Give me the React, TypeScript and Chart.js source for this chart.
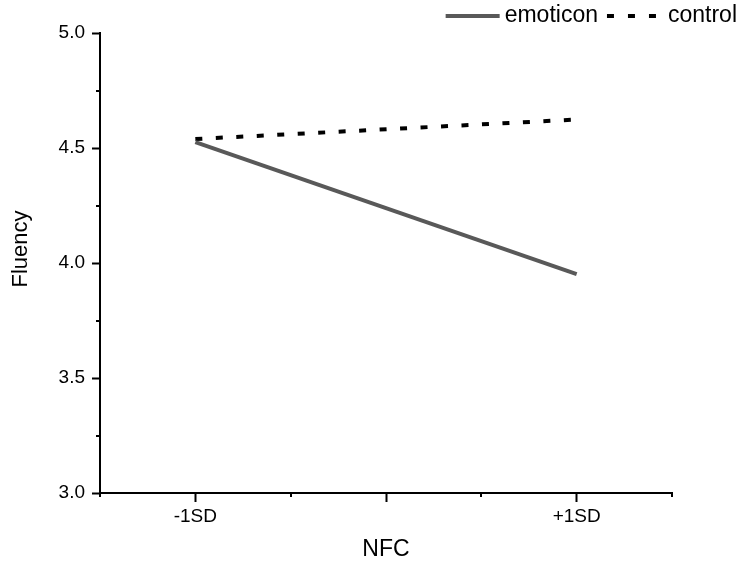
import React, { useEffect, useRef } from 'react';
import { Chart, registerables } from 'chart.js';

Chart.register(...registerables);

// ---- data ----
const xValues = [-1, 1];
const xLabels = ['-1SD', '+1SD'];
const seriesNames = ['emoticon', 'control'];
const emoticonValues = [4.526, 3.952];
const controlValues = [4.539, 4.624];
const xTitle = 'NFC';
const yTitle = 'Fluency';

const FONT = '"Liberation Sans", Arial, sans-serif';
const EMO_COLOR = '#595959';
const CTRL_COLOR = '#000000';
const CTRL_DASH = [7, 13.5];

const isMajorY = (v: number) => Math.abs(Math.round(v * 2) - v * 2) < 1e-6;
const isMajorX = (v: number) => Math.abs(Math.round(v) - v) < 1e-6;

const decorPlugin = {
  id: 'decor',
  afterDraw(chart: any) {
    const { ctx, chartArea, scales } = chart;
    const xs = scales.x;
    const ys = scales.y;
    ctx.save();
    // minor ticks
    ctx.strokeStyle = '#000';
    ctx.lineWidth = 2;
    ctx.beginPath();
    ys.ticks.forEach((t: any) => {
      if (!isMajorY(t.value)) {
        const py = Math.round(ys.getPixelForValue(t.value));
        ctx.moveTo(chartArea.left - 4, py);
        ctx.lineTo(chartArea.left, py);
      }
    });
    xs.ticks.forEach((t: any) => {
      if (!isMajorX(t.value)) {
        const px = Math.round(xs.getPixelForValue(t.value));
        ctx.moveTo(px, chartArea.bottom);
        ctx.lineTo(px, chartArea.bottom + 4);
      }
    });
    ctx.stroke();

    // axis titles
    ctx.fillStyle = '#000';
    ctx.font = `23px ${FONT}`;
    ctx.textAlign = 'center';
    ctx.textBaseline = 'middle';
    ctx.fillText(xTitle, (chartArea.left + chartArea.right) / 2, 550);
    ctx.save();
    ctx.translate(21, 249);
    ctx.rotate(-Math.PI / 2);
    ctx.font = `22px ${FONT}`;
    ctx.fillText(yTitle, 0, 0);
    ctx.restore();

    // legend (top right)
    ctx.font = `23px ${FONT}`;
    ctx.textAlign = 'left';
    ctx.textBaseline = 'middle';
    const ly = 16;
    const wCtrl = ctx.measureText(seriesNames[1]).width;
    const wEmo = ctx.measureText(seriesNames[0]).width;
    const ctrlTextX = 737 - wCtrl;
    const ctrlSampleEnd = ctrlTextX - 12;
    const ctrlSampleStart = ctrlSampleEnd - 49;
    const emoTextX = ctrlSampleStart - 9 - wEmo;
    const emoSampleEnd = emoTextX - 5;
    const emoSampleStart = emoSampleEnd - 54;

    ctx.fillText(seriesNames[1], ctrlTextX, ly);
    ctx.fillText(seriesNames[0], emoTextX, ly);

    ctx.lineWidth = 4;
    ctx.lineCap = 'butt';
    ctx.strokeStyle = EMO_COLOR;
    ctx.setLineDash([]);
    ctx.beginPath();
    ctx.moveTo(emoSampleStart, ly);
    ctx.lineTo(emoSampleEnd, ly);
    ctx.stroke();

    ctx.strokeStyle = CTRL_COLOR;
    ctx.setLineDash([7, 14]);
    ctx.beginPath();
    ctx.moveTo(ctrlSampleStart, ly);
    ctx.lineTo(ctrlSampleEnd, ly);
    ctx.stroke();
    ctx.restore();
  },
};

export default function App() {
  const ref = useRef<HTMLCanvasElement | null>(null);

  useEffect(() => {
    if (!ref.current) return;
    Chart.defaults.font.family = FONT;
    Chart.defaults.color = '#000';
    const chart = new Chart(ref.current, {
      type: 'line',
      data: {
        datasets: [
          {
            label: seriesNames[0],
            data: xValues.map((x, i) => ({ x, y: emoticonValues[i] })),
            borderColor: EMO_COLOR,
            backgroundColor: EMO_COLOR,
            borderWidth: 4,
            pointRadius: 0,
            tension: 0,
            borderCapStyle: 'butt',
          },
          {
            label: seriesNames[1],
            data: xValues.map((x, i) => ({ x, y: controlValues[i] })),
            borderColor: CTRL_COLOR,
            backgroundColor: CTRL_COLOR,
            borderWidth: 4,
            borderDash: CTRL_DASH,
            pointRadius: 0,
            tension: 0,
            borderCapStyle: 'butt',
          },
        ],
      },
      options: {
        responsive: false,
        animation: false,
        devicePixelRatio: 1,
        layout: { padding: { left: 0, right: 66, top: 33, bottom: 0 } },
        plugins: {
          legend: { display: false },
          tooltip: { enabled: false },
        },
        scales: {
          x: {
            type: 'linear',
            min: -1.5,
            max: 1.5,
            afterFit: (s: any) => { s.height = 71; },
            ticks: {
              stepSize: 0.5,
              autoSkip: false,
              maxRotation: 0,
              padding: 3,
              font: { size: 19 },
              color: '#000',
              callback: (v: any) => {
                const idx = xValues.findIndex((x) => Math.abs(x - v) < 1e-6);
                return idx >= 0 ? xLabels[idx] : '';
              },
            },
            grid: {
              display: true,
              drawOnChartArea: false,
              drawTicks: true,
              tickLength: 9,
              tickWidth: 2,
              tickColor: (c: any) => (c.tick && isMajorX(c.tick.value) ? '#000' : 'rgba(0,0,0,0)'),
            },
            border: { display: true, color: '#000', width: 2 },
          },
          y: {
            type: 'linear',
            min: 3,
            max: 5,
            afterFit: (s: any) => { s.width = 100; },
            ticks: {
              stepSize: 0.25,
              autoSkip: false,
              padding: 7,
              font: { size: 19 },
              color: '#000',
              callback: (v: any) => (isMajorY(Number(v)) ? Number(v).toFixed(1) : ''),
            },
            grid: {
              display: true,
              drawOnChartArea: false,
              drawTicks: true,
              tickLength: 8,
              tickWidth: 2,
              tickColor: (c: any) => (c.tick && isMajorY(c.tick.value) ? '#000' : 'rgba(0,0,0,0)'),
            },
            border: { display: true, color: '#000', width: 2 },
          },
        },
      },
      plugins: [decorPlugin],
    });
    return () => chart.destroy();
  }, []);

  return (
    <div style={{ position: 'absolute', left: 0, top: 0, width: 738, height: 564, background: '#fff' }}>
      <canvas ref={ref} width={738} height={564} style={{ display: 'block', width: 738, height: 564 }} />
    </div>
  );
}
